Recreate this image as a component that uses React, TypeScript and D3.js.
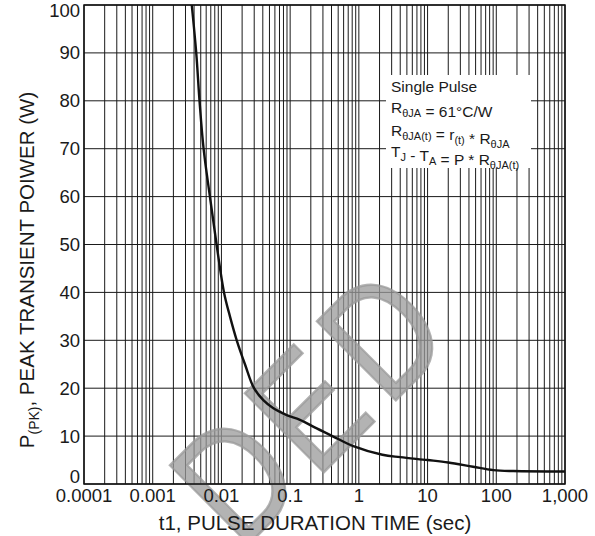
import React, { useRef, useEffect } from 'react';
import * as d3 from 'd3';

// pulse duration (sec) and peak transient power (W)
const pulseTime = [0.0037, 0.0043, 0.0048, 0.0055, 0.0068, 0.0085, 0.0109, 0.0133, 0.0167, 0.022, 0.0298, 0.0407, 0.057, 0.089, 0.139, 0.244, 0.425, 0.83, 2.2, 4.0, 10, 20, 46, 91, 177, 1000];
const peakPower = [100, 90, 80, 70, 60, 50, 40, 35, 30, 25, 20, 17.5, 15.8, 14.4, 13.4, 11.6, 9.9, 7.9, 6.1, 5.6, 5.0, 4.5, 3.6, 2.9, 2.7, 2.6];

const xTickValues = [0.0001, 0.001, 0.01, 0.1, 1, 10, 100, 1000];
const xTickLabels = ['0.0001', '0.001', '0.01', '0.1', '1', '10', '100', '1,000'];
const yTickValues = [0, 10, 20, 30, 40, 50, 60, 70, 80, 90, 100];

const FONT = '"Liberation Sans", Arial, Helvetica, sans-serif';

const W = 595;
const H = 536;
const margin = { left: 84, right: 30, top: 5, bottom: 52 };

const App: React.FC = () => {
    const ref = useRef<SVGSVGElement>(null);

    useEffect(() => {
        if (!ref.current) return;
        const svg = d3.select(ref.current);
        svg.selectAll('*').remove();

        const x0 = margin.left, x1 = W - margin.right;
        const y0 = H - margin.bottom, y1 = margin.top;

        const x = d3.scaleLog().domain([0.0001, 1000]).range([x0, x1]);
        const y = d3.scaleLinear().domain([0, 100]).range([y0, y1]);

        // grid: 1..9 in every decade
        const minor: number[] = [];
        for (let e = -4; e < 3; e++) {
            for (let k = 1; k < 10; k++) minor.push(k * Math.pow(10, e));
        }
        minor.push(1000);
        const grid = svg.append('g');
        grid.selectAll('.vx').data(minor).enter().append('line')
            .attr('x1', d => x(d)).attr('x2', d => x(d))
            .attr('y1', y0).attr('y2', y1)
            .attr('stroke', '#1a1a1a').attr('stroke-width', 1);
        grid.selectAll('.hy').data(yTickValues).enter().append('line')
            .attr('x1', x0).attr('x2', x1)
            .attr('y1', d => y(d)).attr('y2', d => y(d))
            .attr('stroke', '#1a1a1a').attr('stroke-width', 1);

        // legend box
        svg.append('rect')
            .attr('x', 386).attr('y', 75).attr('width', 145).attr('height', 93)
            .attr('fill', '#fff');

        const legend = svg.append('text')
            .attr('font-family', FONT).attr('font-size', 15.5).attr('fill', '#1a1a1a');
        const line = (yy: number, parts: [string, boolean][]) => {
            let first = true;
            parts.forEach(([s, isSub]) => {
                const sp = legend.append('tspan').text(s);
                if (first) { sp.attr('x', 391).attr('y', yy); first = false; }
                if (isSub) {
                    sp.attr('font-size', 11).attr('dy', 4);
                    legend.append('tspan').attr('dy', -4).text('');
                }
            });
        };
        line(92, [['Single Pulse', false]]);
        line(113, [['R', false], ['θJA', true], [' = 61°C/W', false]]);
        line(136, [['R', false], ['θJA(t)', true], [' = r', false], ['(t)', true], [' * R', false], ['θJA', true]]);
        line(157, [['T', false], ['J', true], [' - T', false], ['A', true], [' = P * R', false], ['θJA(t)', true]]);

        // watermark
        const wm = svg.append('g')
            .attr('font-family', FONT).attr('font-size', 162)
            .attr('fill', '#9a9a9a').attr('fill-opacity', 0.75)
            .attr('stroke', '#9a9a9a').attr('stroke-opacity', 0.75).attr('stroke-width', 2.5);
        [['D', 241, 552], ['E', 316, 480], ['D', 388, 408]].forEach(([ch, tx, ty]) => {
            wm.append('text')
                .attr('transform', `translate(${tx},${ty}) rotate(-45) scale(0.82,1)`)
                .text(ch as string);
        });

        // curve
        const pts = pulseTime.map((t, i) => [t, peakPower[i]] as [number, number]);
        const path = d3.line<[number, number]>()
            .x(d => x(d[0])).y(d => y(d[1]))
            .curve(d3.curveCatmullRom.alpha(0.5));
        svg.append('path').datum(pts)
            .attr('d', path)
            .attr('fill', 'none').attr('stroke', '#111').attr('stroke-width', 2.4);

        // frame
        svg.append('rect')
            .attr('x', x0).attr('y', y1).attr('width', x1 - x0).attr('height', y0 - y1)
            .attr('fill', 'none').attr('stroke', '#111').attr('stroke-width', 1.5);

        // x tick labels
        svg.append('g').selectAll('text').data(xTickValues).enter().append('text')
            .attr('x', d => x(d)).attr('y', 502)
            .attr('text-anchor', 'middle')
            .attr('font-family', FONT).attr('font-size', 18.5).attr('fill', '#1a1a1a')
            .text((d, i) => xTickLabels[i]);

        // y tick labels
        svg.append('g').selectAll('text').data(yTickValues).enter().append('text')
            .attr('x', 80)
            .attr('y', d => d === 0 ? y(d) - 1 : d === 100 ? y(d) + 12 : y(d) + 6.5)
            .attr('text-anchor', 'end')
            .attr('font-family', FONT).attr('font-size', 18.5).attr('fill', '#1a1a1a')
            .text(d => String(d));

        // axis titles
        svg.append('text')
            .attr('x', 315).attr('y', 530)
            .attr('text-anchor', 'middle')
            .attr('font-family', FONT).attr('font-size', 20.5).attr('fill', '#1a1a1a')
            .text('t1, PULSE DURATION TIME (sec)');

        const yt = svg.append('text')
            .attr('transform', 'translate(34,270) rotate(-90)')
            .attr('text-anchor', 'middle')
            .attr('font-family', FONT).attr('font-size', 20.5).attr('fill', '#1a1a1a');
        yt.append('tspan').text('P');
        yt.append('tspan').attr('font-size', 14).attr('dy', 5).text('(PK)');
        yt.append('tspan').attr('dy', -5).text(', PEAK TRANSIENT POIWER (W)');
    }, []);

    return (
        <svg
            ref={ref}
            width={W}
            height={H}
            style={{ position: 'absolute', left: 0, top: 0, background: '#fff' }}
        />
    );
};

export default App;
